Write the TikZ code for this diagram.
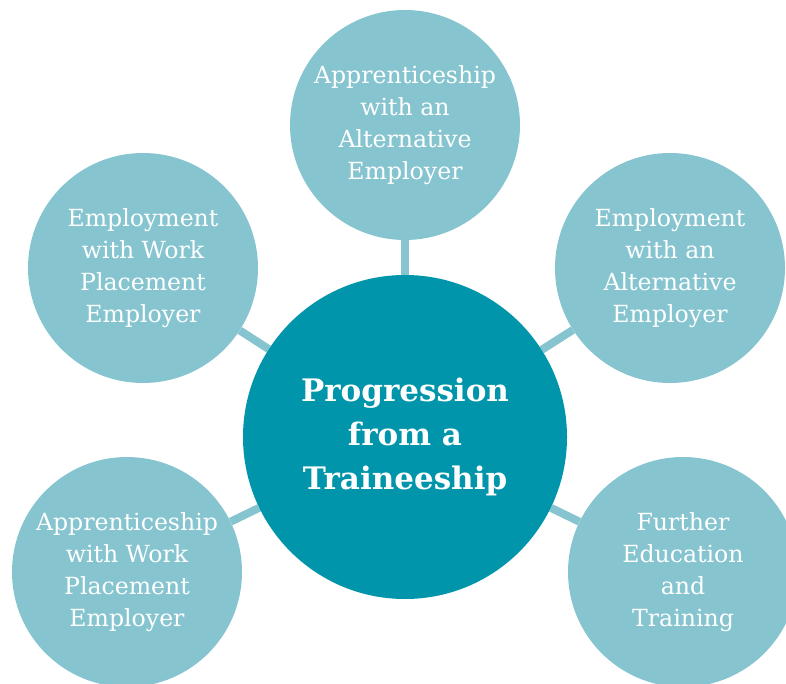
\documentclass[tikz,border=0pt]{standalone}
\usepackage{fontspec}
\setmainfont{DejaVu Serif}
\usetikzlibrary{backgrounds}
\definecolor{hubteal}{HTML}{0095AA}
\definecolor{pathteal}{HTML}{86C5D0}
\tikzset{
  hub/.style={circle, fill=hubteal, text=white, minimum size=324pt, inner sep=0pt,
    align=center, font=\bfseries\fontsize{31}{44}\selectfont},
  route/.style={circle, fill=pathteal, text=white, minimum size=230pt, inner sep=0pt,
    align=center, font=\fontsize{23.6}{32}\selectfont},
  spoke/.style={draw=pathteal, line width=8pt}
}
\begin{document}
\begin{tikzpicture}[x=1pt,y=-1pt]
	\useasboundingbox (0,0) rectangle (786,684);

	\node[hub] (prog) at (405,437) {Progression\\from a\\Traineeship};

	\node[route] (appalt) at (405,125) {Apprenticeship\\with an\\Alternative\\Employer};
	\node[route] (empwork) at (143,268) {Employment\\with Work\\Placement\\Employer};
	\node[route] (empalt) at (670,268) {Employment\\with an\\Alternative\\Employer};
	\node[route] (appwork) at (127,572) {Apprenticeship\\with Work\\Placement\\Employer};
	\node[route] (further) at (683,572) {Further\\Education\\and\\Training};

	% spokes behind the circles
	\begin{scope}[on background layer]
	  \foreach \n in {appalt,empwork,empalt,appwork,further}{
	    \draw[spoke] (prog) -- (\n);
	  }
	\end{scope}
\end{tikzpicture}
\end{document}
